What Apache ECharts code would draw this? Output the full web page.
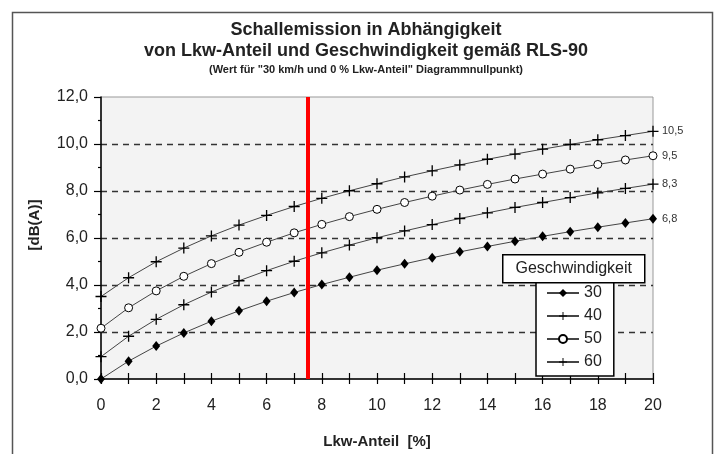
<!DOCTYPE html>
<html>
<head>
<meta charset="utf-8">
<script src="https://cdn.jsdelivr.net/npm/echarts@6/dist/echarts.min.js"></script>
<style>html,body{margin:0;padding:0;background:#fff}#c{width:720px;height:454px}</style>
</head>
<body>
<div id="c"></div>
<script>
const titleLine1 = 'Schallemission in Abhängigkeit';
const titleLine2 = 'von Lkw-Anteil und Geschwindigkeit gemäß RLS-90';
const subTitle = '(Wert für "30 km/h und 0 % Lkw-Anteil" Diagrammnullpunkt)';
const xName = 'Lkw-Anteil  [%]';
const yName = '[dB(A)]';
const legendTitle = 'Geschwindigkeit';
const seriesNames = ['30', '40', '50', '60'];
const lkwAnteil = [0,1,2,3,4,5,6,7,8,9,10,11,12,13,14,15,16,17,18,19,20];
const v30 = [0, 0.76, 1.40, 1.96, 2.46, 2.90, 3.31, 3.68, 4.02, 4.33, 4.63, 4.90, 5.16, 5.41, 5.64, 5.86, 6.07, 6.27, 6.46, 6.64, 6.82];
const v40 = [0.95, 1.82, 2.54, 3.16, 3.70, 4.18, 4.61, 5.01, 5.37, 5.70, 6.01, 6.30, 6.57, 6.83, 7.07, 7.30, 7.51, 7.72, 7.92, 8.11, 8.29];
const v50 = [2.16, 3.03, 3.75, 4.37, 4.91, 5.39, 5.82, 6.22, 6.58, 6.91, 7.22, 7.51, 7.78, 8.04, 8.28, 8.51, 8.72, 8.93, 9.13, 9.32, 9.50];
const v60 = [3.51, 4.31, 4.99, 5.57, 6.09, 6.55, 6.96, 7.34, 7.69, 8.01, 8.31, 8.60, 8.86, 9.11, 9.35, 9.57, 9.78, 9.98, 10.18, 10.36, 10.54];
const redLineX = 7.5;

const FONT = '"Liberation Sans", Arial, sans-serif';
const PLUS = 'path://M0,4.4H10V5.6H0Z M4.4,0H5.6V10H4.4Z';
const fmt1 = v => Number(v).toFixed(1).replace('.', ',');

function mk(name, vals, symbol, size, extra) {
  return Object.assign({
    name: name,
    type: 'line',
    data: lkwAnteil.map((x, i) => [x, vals[i]]),
    symbol: symbol,
    symbolSize: size,
    showAllSymbol: true,
    lineStyle: { color: '#444', width: 1 },
    itemStyle: { color: '#000', borderColor: '#000', borderWidth: 0 },
    endLabel: { show: true, formatter: p => fmt1(p.value[1]), distance: 9, fontSize: 11, color: '#333', fontFamily: FONT },
    emphasis: { disabled: true },
    z: 3
  }, extra || {});
}

const chart = echarts.init(document.getElementById('c'), null, { renderer: 'canvas' });
chart.setOption({
  animation: false,
  backgroundColor: '#fff',
  textStyle: { fontFamily: FONT },
  grid: { left: 101, right: 67, top: 97, bottom: 74, show: true, backgroundColor: '#f3f3f3', borderColor: '#999', borderWidth: 1 },
  xAxis: [{
    type: 'value', min: 0, max: 20, interval: 1,
    name: xName, nameLocation: 'middle', nameGap: 55,
    nameTextStyle: { fontSize: 15, fontWeight: 'bold', color: '#222', fontFamily: FONT },
    axisLine: { show: true, lineStyle: { color: '#000', width: 1.5 } },
    axisTick: { show: true, length: 5, lineStyle: { color: '#000', width: 1.2 } },
    axisLabel: { fontSize: 16, color: '#222', margin: 19, formatter: v => (v % 2 === 0 ? String(v) : ''), fontFamily: FONT },
    splitLine: { show: false }
  }, {
    type: 'value', min: 0, max: 20, interval: 1, position: 'bottom',
    axisLine: { show: false },
    axisTick: { show: true, inside: true, length: 6, lineStyle: { color: '#000', width: 1.2 } },
    axisLabel: { show: false },
    splitLine: { show: false }
  }],
  yAxis: {
    type: 'value', min: 0, max: 12, interval: 2,
    axisLine: { show: true, lineStyle: { color: '#000', width: 1.5 } },
    axisTick: { show: true, length: 7, lineStyle: { color: '#000', width: 1.2 } },
    minorTick: { show: true, splitNumber: 2, length: 3, lineStyle: { color: '#000', width: 1.2 } },
    axisLabel: { fontSize: 16, color: '#222', margin: 13, formatter: v => fmt1(v), fontFamily: FONT },
    splitLine: { show: true, lineStyle: { type: [6, 5], width: 1.3, color: ['rgba(0,0,0,0)', '#333', '#333', '#333', '#333', '#333', 'rgba(0,0,0,0)'] } }
  },
  legend: {
    show: true, orient: 'vertical', left: 536, top: 282,
    data: seriesNames,
    padding: [3, 12, 6, 10], itemGap: 7, itemWidth: 32, itemHeight: 10,
    backgroundColor: '#fff', borderColor: '#000', borderWidth: 1.5, borderRadius: 0,
    textStyle: { fontSize: 16, lineHeight: 14, color: '#222', fontFamily: FONT },
    selectedMode: false
  },
  series: [
    mk(seriesNames[0], v30, 'diamond', [8, 10], {
      markLine: {
        silent: true, symbol: 'none', label: { show: false },
        lineStyle: { color: '#ff0000', width: 4, type: 'solid' },
        data: [{ xAxis: redLineX }], z: 5
      }
    }),
    mk(seriesNames[1], v40, PLUS, 11),
    mk(seriesNames[2], v50, 'circle', 8, { itemStyle: { color: '#fff', borderColor: '#000', borderWidth: 1 } }),
    mk(seriesNames[3], v60, PLUS, 11)
  ],
  graphic: [
    { type: 'rect', left: 10, top: 10, shape: { width: 700, height: 470 }, style: { fill: 'none', stroke: '#555', lineWidth: 1.5 }, z: 0, silent: true },
    { type: 'text', x: 366, y: 30, style: { text: titleLine1, font: 'bold 18px ' + FONT, fill: '#222', textAlign: 'center', textVerticalAlign: 'middle' }, z: 10 },
    { type: 'text', x: 366, y: 51, style: { text: titleLine2, font: 'bold 18px ' + FONT, fill: '#222', textAlign: 'center', textVerticalAlign: 'middle' }, z: 10 },
    { type: 'text', x: 366, y: 70, style: { text: subTitle, font: 'bold 11px ' + FONT, fill: '#222', textAlign: 'center', textVerticalAlign: 'middle' }, z: 10 },
    { type: 'text', x: 35, y: 225, rotation: Math.PI / 2, style: { text: yName, font: 'bold 15px ' + FONT, fill: '#222', textAlign: 'center', textVerticalAlign: 'middle' }, z: 10 },
    { type: 'group', left: 502, top: 254, z: 100, children: [
      { type: 'rect', shape: { x: 0, y: 0, width: 142, height: 28 }, style: { fill: '#fff', stroke: '#000', lineWidth: 1.5 }, z: 100 },
      { type: 'text', x: 71, y: 14, style: { text: legendTitle, font: '16px ' + FONT, fill: '#222', textAlign: 'center', textVerticalAlign: 'middle' }, z: 101 }
    ]}
  ]
});
</script>
</body>
</html>
